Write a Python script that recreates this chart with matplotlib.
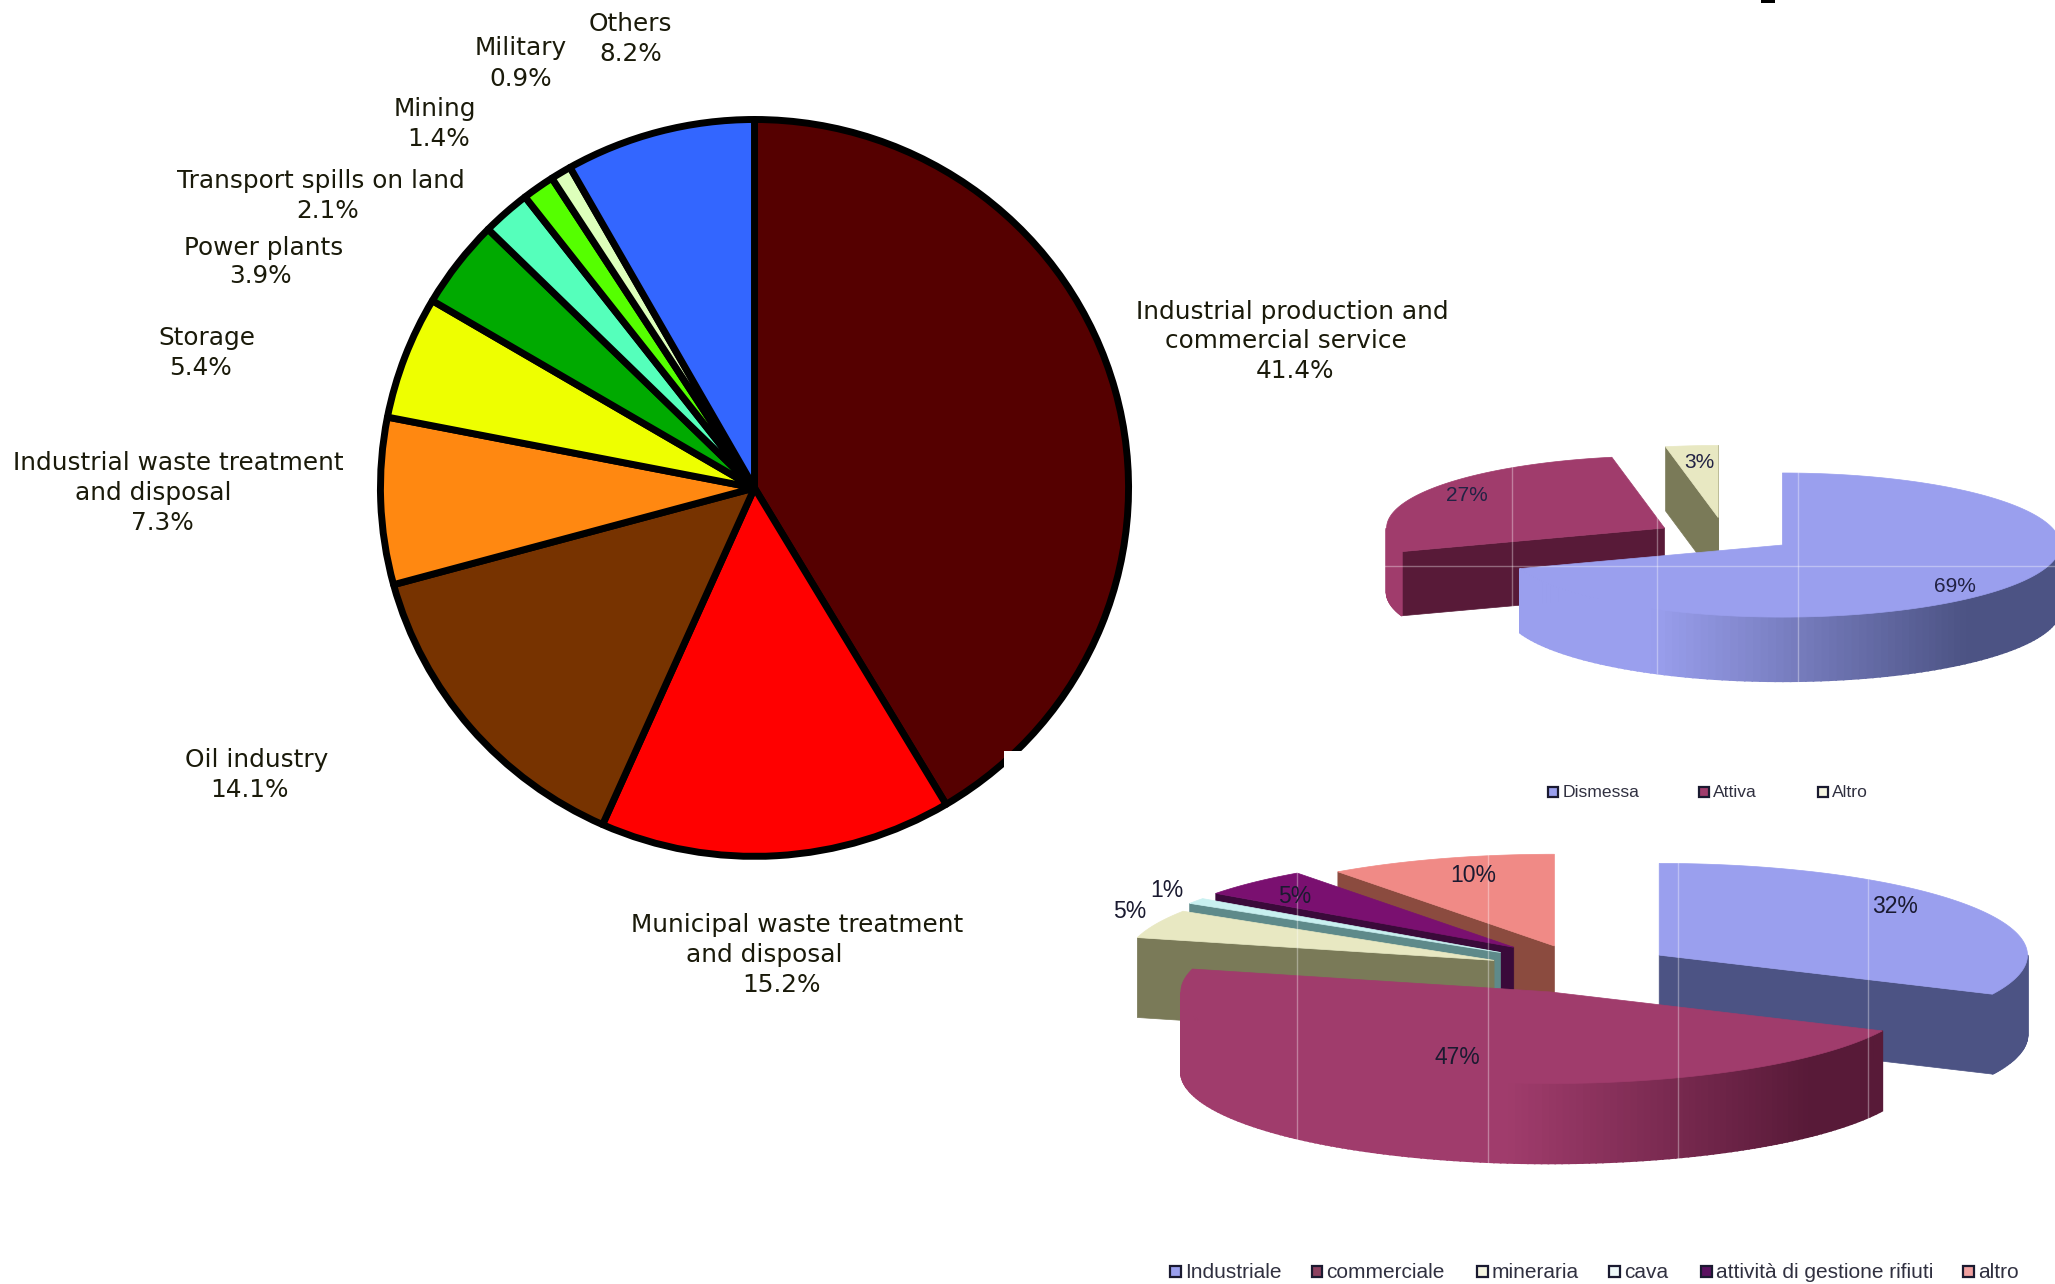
import numpy as np
import matplotlib
matplotlib.use("Agg")
import matplotlib.pyplot as plt
from matplotlib.patches import Polygon, Rectangle

plt.rcParams['font.family'] = ['DejaVu Sans']

# main pie
sources = ["Industrial production and commercial service", "Municipal waste treatment and disposal",
           "Oil industry", "Industrial waste treatment and disposal", "Storage", "Power plants",
           "Transport spills on land", "Mining", "Military", "Others"]
source_values = [41.4, 15.2, 14.1, 7.3, 5.4, 3.9, 2.1, 1.4, 0.9, 8.2]
source_colors = ['#550000', '#ff0000', '#773300', '#ff8811', '#eeff00',
                 '#00aa00', '#55ffbb', '#55ff00', '#ddffbb', '#3366ff']

# text lines of the main pie and where they sit (reference shown at 1568 wide)
main_lines = ["Others", "8.2%", "Military", "0.9%", "Mining", "1.4%",
              "Transport spills on land", "2.1%", "Power plants", "3.9%",
              "Storage", "5.4%", "Industrial waste treatment", "and disposal", "7.3%",
              "Oil industry", "14.1%", "Municipal waste treatment", "and disposal", "15.2%",
              "Industrial production and", "commercial service", "41.4%"]
main_x = [481, 481, 397, 397, 332, 335, 245, 250, 201, 199, 158, 153,
          136, 117, 124, 196, 190, 608, 583, 596, 986, 981, 988]
main_y = [18, 41, 37, 60, 83, 106, 138, 161, 189, 211, 258, 281,
          353, 376, 399, 580, 603, 706, 729, 752, 238, 260, 283]

# upper 3d pie
status_names = ["Dismessa", "Attiva", "Altro"]
status_values = [69, 27, 3]
status_labels = ["69%", "27%", "3%"]
status_top = ['#9a9fee', '#a03c6c', '#e8e8c2']
status_wall = ['#4c5384', '#581a38', '#7a7a58']
status_swatch = ['#9a9fee', '#a03c6c', '#f4f4e0']
status_apex = [(1360, 416), (1270, 403), (1311, 395)]
status_legend_x = [1181, 1296, 1387]

# lower 3d pie
use_names = ["Industriale", "commerciale", "mineraria", "cava", "attività di gestione rifiuti", "altro"]
use_values = [32, 47, 5, 1, 5, 10]
use_labels = ["32%", "47%", "5%", "1%", "5%", "10%"]
use_top = ['#9a9fee', '#a03c6c', '#e8e8c2', '#c8f0f0', '#7a1070', '#f08a86']
use_wall = ['#4c5384', '#581a38', '#7a7a58', '#5e8a8a', '#3a0a3a', '#8b4b3f']
use_swatch = ['#9a9fee', '#8c4060', '#f4f4e0', '#eef8f8', '#5a1060', '#f0a0a0']
use_apex = [(1266, 729), (1182, 757), (1140, 733), (1145, 727), (1155, 723), (1186, 722)]
use_legend_x = [893, 1001, 1127, 1228, 1298, 1498]


def slice_point(apex, a, b, t):
  return apex[0] + a * np.sin(t), apex[1] - b * np.cos(t)


def shade(color, dark, frac):
  c1 = np.array(matplotlib.colors.to_rgb(color))
  c2 = np.array(matplotlib.colors.to_rgb(dark))
  return tuple(c1 + (c2 - c1) * frac)


def draw_slice(ax, apex, a, b, depth, t0, t1, top, wall, left_x, right_x):
  # flat walls, only the ones turned to the viewer
  for t, seen in ((t0, np.sin(t0) < 0), (t1, np.sin(t1) > 0)):
    if seen:
      ex, ey = slice_point(apex, a, b, t)
      ax.add_patch(Polygon([apex, (ex, ey), (ex, ey + depth), (apex[0], apex[1] + depth)],
                           color=wall, lw=0.5))
  # outer wall with the gradient
  ts = np.linspace(t0, t1, 160)
  for p, q in zip(ts[:-1], ts[1:]):
    if np.cos((p + q) / 2) < 0:
      x0, y0 = slice_point(apex, a, b, p)
      x1, y1 = slice_point(apex, a, b, q)
      frac = np.clip(((x0 + x1) / 2 - left_x) / (right_x - left_x), 0, 1)
      ax.add_patch(Polygon([(x0, y0), (x1, y1), (x1, y1 + depth), (x0, y0 + depth)],
                           color=shade(top, wall, frac), lw=1.2))
  xs, ys = slice_point(apex, a, b, ts)
  ax.add_patch(Polygon([apex] + list(zip(xs, ys)), color=top, lw=0.5))


def draw_3d_pie(ax, values, tops, walls, apexes, order, a, b, depth, left_x, right_x):
  edges = 2 * np.pi * np.cumsum([0] + values) / sum(values)
  for i in order:
    draw_slice(ax, apexes[i], a, b, depth, edges[i], edges[i + 1], tops[i], walls[i], left_x, right_x)


def draw_legend(ax, names, xs, colors, y, size):
  for name, x, color in zip(names, xs, colors):
    ax.add_patch(Rectangle((x, y - 4.5), 8, 8, facecolor=color, edgecolor='#1a1a30', lw=1.6))
    ax.text(x + 11, y, name, family='Liberation Sans', fontsize=size, color='#303040', va='center', ha='left')


fig = plt.figure(figsize=(20.55, 12.84), dpi=100)

ax = fig.add_axes([0, 0, 1, 1])
ax.set_xlim(0, 1568)
ax.set_ylim(980, 0)
ax.axis('off')

for text, x, y in zip(main_lines, main_x, main_y):
  ax.text(x, y, text, fontsize=17.8, color='#1a1a0a', ha='center', va='center')

ax.add_patch(Rectangle((1344, 0), 10, 2.3, color='black', lw=0))

# upper pie
draw_3d_pie(ax, status_values, status_top, status_wall, status_apex, [2, 1, 0], 212, 55, 49, 1260, 1500)
for label, x, y in zip(status_labels, [1492, 1119, 1297], [448, 378, 353]):
  ax.text(x, y, label, family='Liberation Sans', fontsize=15, color='#222244', ha='center', va='center')
for x in [1154, 1264, 1372]:
  ax.plot([x, x], [340, 525], color='white', alpha=0.35, lw=1)
ax.plot([1050, 1568], [432, 432], color='white', alpha=0.35, lw=1)

# lower pie
draw_3d_pie(ax, use_values, use_top, use_wall, use_apex, [5, 4, 3, 2, 0, 1], 281, 70, 61, 1150, 1380)
for label, x, y in zip(use_labels, [1446, 1112, 862, 890, 988, 1124], [692, 807, 696, 680, 684, 668]):
  ax.text(x, y, label, family='Liberation Sans', fontsize=16.5, color='#1a1a30', ha='center', va='center')
for x in [990, 1135, 1280, 1425]:
  ax.plot([x, x], [650, 890], color='white', alpha=0.35, lw=1)

draw_legend(ax, status_names, status_legend_x, status_swatch, 605, 12.6)
draw_legend(ax, use_names, use_legend_x, use_swatch, 971, 15)

# main pie gets its own axes, it is a bit wider than tall in the reference
w, h = 285.4, 281.2
cx, cy = 575.7, 372.4
ax2 = fig.add_axes([(cx - w) / 1568, 1 - (cy + h) / 980, 2 * w / 1568, 2 * h / 980])
ax2.pie(source_values, colors=source_colors, startangle=90, counterclock=False,
        wedgeprops={'edgecolor': 'black', 'linewidth': 5.0, 'clip_on': False, 'joinstyle': 'round'})
ax2.set_aspect('auto')
ax2.set_xlim(-1, 1)
ax2.set_ylim(-1, 1)
# white cut in the rim at lower right
ax2.add_patch(Rectangle((0.666, -0.845), 0.12, 0.13, color='white', lw=0, clip_on=False, zorder=5))

fig.savefig('out.png', dpi=100)
